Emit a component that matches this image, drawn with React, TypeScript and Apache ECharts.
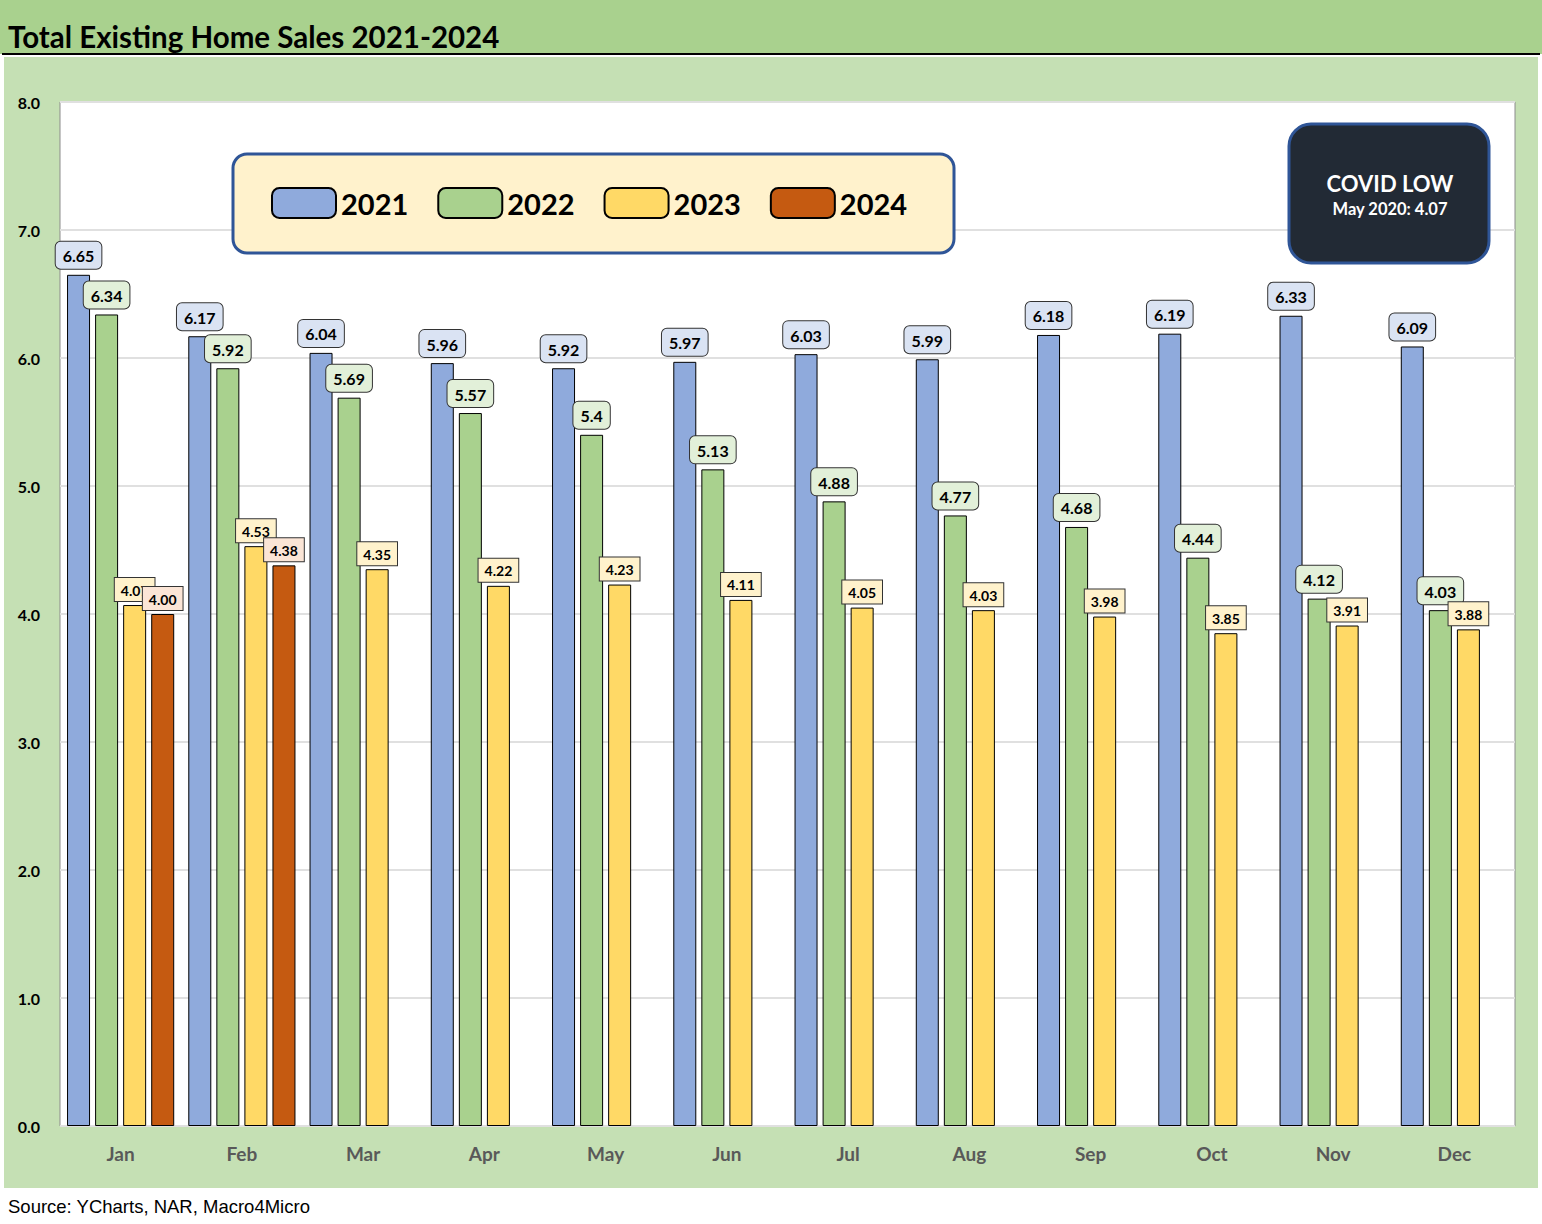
import React, { useEffect, useRef } from "react";
import * as echarts from "echarts";

const months = ["Jan", "Feb", "Mar", "Apr", "May", "Jun", "Jul", "Aug", "Sep", "Oct", "Nov", "Dec"];
const yearNames = ["2021", "2022", "2023", "2024"];
const sales2021 = [6.65, 6.17, 6.04, 5.96, 5.92, 5.97, 6.03, 5.99, 6.18, 6.19, 6.33, 6.09];
const sales2022 = [6.34, 5.92, 5.69, 5.57, 5.4, 5.13, 4.88, 4.77, 4.68, 4.44, 4.12, 4.03];
const sales2023 = [4.07, 4.53, 4.35, 4.22, 4.23, 4.11, 4.05, 4.03, 3.98, 3.85, 3.91, 3.88];
const sales2024 = [4.0, 4.38, null, null, null, null, null, null, null, null, null, null];
const yTicks = ["0.0", "1.0", "2.0", "3.0", "4.0", "5.0", "6.0", "7.0", "8.0"];

const barColors = ["#8faadc", "#a9d18e", "#ffd966", "#c55a11"];
const labelBgs = ["#dae3f3", "#e2f0d9", "#fff2cc", "#fbe5d6"];

export default function App() {
  const ref = useRef<HTMLDivElement>(null);
  useEffect(() => {
    document.body.style.margin = "0";
    const chart = echarts.init(ref.current!, null, { renderer: "svg" });
    const allData = [sales2021, sales2022, sales2023, sales2024];
    const series = allData.map((d, i) => ({
      name: yearNames[i],
      type: "bar",
      data: d,
      barWidth: 23,
      barGap: "22%",
      itemStyle: { color: barColors[i], borderColor: "#000", borderWidth: 1 },
      label: {
        show: true,
        position: "top",
        distance: i < 2 ? 6 : 4,
        formatter: (p: any) => (i === 3 ? Number(p.value).toFixed(2) : String(p.value)),
        backgroundColor: labelBgs[i],
        borderColor: "#333",
        borderWidth: 1,
        borderRadius: i < 2 ? 5 : 0,
        padding: i < 2 ? [6, 7, 5, 7] : [5, 6, 4, 6],
        fontFamily: "Lato",
        fontWeight: "bold",
        fontSize: i < 2 ? 16 : 14,
        color: "#000",
      },
    }));
    chart.setOption({
      animation: false,
      backgroundColor: "#ffffff",
      grid: {
        left: 60,
        top: 102,
        width: 1455,
        height: 1024,
        show: true,
        backgroundColor: "#ffffff",
        borderColor: "#8c8c8c",
        borderWidth: 1,
      },
      legend: {
        left: 266,
        top: 182,
        itemWidth: 64,
        itemHeight: 30,
        itemGap: 29,
        icon: "roundRect",
        data: yearNames,
        textStyle: { fontFamily: "Lato", fontWeight: "bold", fontSize: 29, color: "#000" },
        z: 20,
      },
      xAxis: {
        type: "category",
        data: months,
        axisLine: { show: false },
        axisTick: { show: false },
        axisLabel: { fontFamily: "Lato", fontWeight: "bold", fontSize: 19, color: "#595959", margin: 18 },
      },
      yAxis: {
        type: "value",
        min: 0,
        max: 8,
        interval: 1,
        axisLine: { show: false },
        axisTick: { show: false },
        axisLabel: {
          fontFamily: "Lato",
          fontWeight: "bold",
          fontSize: 16,
          color: "#000",
          margin: 20,
          padding: [0, 0, 4, 0],
          formatter: (v: number) => yTicks[Math.round(v)],
        },
        splitLine: { lineStyle: { color: "#e0e0e0", width: 2 } },
      },
      graphic: [
        { type: "rect", z: -10, shape: { x: 0, y: 0, width: 1542, height: 54 }, style: { fill: "#a9d18e" } },
        { type: "rect", z: -10, shape: { x: 2, y: 53, width: 1538, height: 2 }, style: { fill: "#000" } },
        { type: "rect", z: -10, shape: { x: 4, y: 57, width: 1534, height: 1131 }, style: { fill: "#c5e0b4" } },
        {
          type: "text",
          z: 10,
          x: 8,
          y: 36,
          style: {
            text: "Total Existing Home Sales 2021-2024",
            fontFamily: "Lato",
            fontWeight: "bold",
            fontSize: 29.5,
            fill: "#000",
            textVerticalAlign: "middle",
          },
        },
        {
          type: "rect",
          z: 10,
          shape: { x: 233, y: 154, width: 721, height: 99, r: 14 },
          style: { fill: "#fff2cc", stroke: "#2f5597", lineWidth: 3 },
        },
        {
          type: "rect",
          z: 10,
          shape: { x: 1289, y: 124, width: 200, height: 139, r: 22 },
          style: { fill: "#222a35", stroke: "#2f5597", lineWidth: 3 },
        },
        {
          type: "text",
          z: 11,
          x: 1390,
          y: 183,
          style: {
            text: "COVID LOW",
            fontFamily: "Lato",
            fontWeight: "bold",
            fontSize: 22,
            fill: "#fff",
            textAlign: "center",
            textVerticalAlign: "middle",
          },
        },
        {
          type: "text",
          z: 11,
          x: 1390,
          y: 209,
          style: {
            text: "May 2020: 4.07",
            fontFamily: "Lato",
            fontWeight: "bold",
            fontSize: 16.5,
            fill: "#fff",
            textAlign: "center",
            textVerticalAlign: "middle",
          },
        },
        {
          type: "text",
          z: 10,
          x: 8,
          y: 1206,
          style: {
            text: "Source: YCharts, NAR, Macro4Micro",
            fontFamily: "Liberation Sans",
            fontSize: 18.5,
            fill: "#000",
            textVerticalAlign: "middle",
          },
        },
      ],
      series,
    });
    return () => chart.dispose();
  }, []);
  return <div ref={ref} style={{ width: 1542, height: 1224 }} />;
}
